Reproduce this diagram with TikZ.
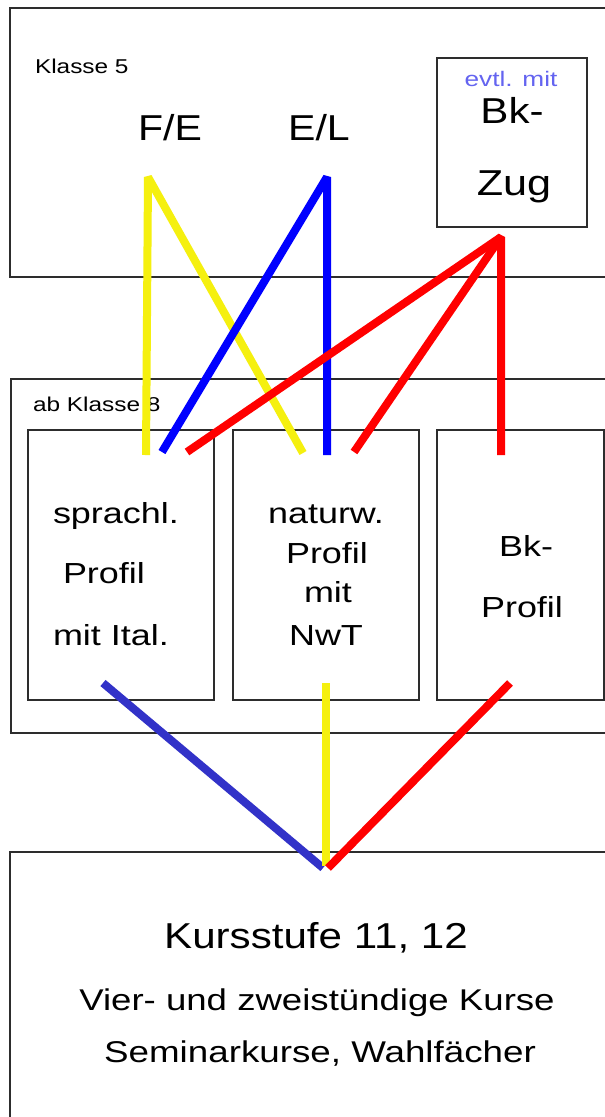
\documentclass[tikz,border=0pt]{standalone}
\usepackage{fontspec}
\setmainfont{Liberation Sans}
\usepackage{graphicx}
\newcommand{\tx}[3]{\fontsize{#1}{#1}\selectfont\scalebox{#2}[1]{#3}}
\definecolor{cyel}{RGB}{245,240,15}
\definecolor{cblu}{RGB}{0,0,255}
\definecolor{cblutwo}{RGB}{50,50,200}
\definecolor{cred}{RGB}{255,0,0}
\definecolor{cevtl}{RGB}{100,100,240}
\definecolor{cframe}{RGB}{45,45,45}
\begin{document}
\begin{tikzpicture}[x=1pt,y=-1pt,
  frame/.style={draw=cframe, line width=2pt, inner sep=0pt, outer sep=0pt, anchor=north west},
  lbl/.style={inner sep=0pt, outer sep=0pt, anchor=base},
  lblw/.style={inner sep=0pt, outer sep=0pt, anchor=base west},
  conn/.style={line width=8pt, line join=bevel}]
\clip (0,0) rectangle (605,1117);
\fill[white] (0,0) rectangle (605,1117);
% frames
\node[frame, minimum width=620pt, minimum height=269pt] (top) at (10,8) {};
\node[frame, minimum width=150pt, minimum height=169pt] (bkzug) at (437,58) {};
\node[frame, minimum width=619pt, minimum height=354pt] (mid) at (11,379) {};
\node[frame, minimum width=186pt, minimum height=270pt] (sp) at (28,430) {};
\node[frame, minimum width=186pt, minimum height=270pt] (nw) at (233,430) {};
\node[frame, minimum width=167pt, minimum height=270pt] (bk) at (437,430) {};
\node[frame, minimum width=620pt, minimum height=300pt] (ks) at (10,852) {};
% texts top
\node[lblw] (t5) at (35,73) {\tx{20}{1.22}{Klasse 5}};
\node[lbl] (fe) at (170,140) {\tx{36}{1.14}{F/E}};
\node[lbl] (el) at (319,140) {\tx{36}{1.14}{E/L}};
\node[lbl, text=cevtl] (ev) at (511,86) {\tx{21}{1.25}{evtl. mit}};
\node[lbl] (bkone) at (512,123) {\tx{36}{1.17}{Bk-}};
\node[lbl] (zug) at (514,195) {\tx{36}{1.2}{Zug}};
% texts middle
\node[lblw] (t8) at (33,411) {\tx{20}{1.22}{ab Klasse 8}};
\node[lblw] (sp1) at (53,523) {\tx{29}{1.24}{sprachl.}};
\node[lblw] (sp2) at (63,583) {\tx{29}{1.24}{Profil}};
\node[lblw] (sp3) at (53,645) {\tx{29}{1.24}{mit Ital.}};
\node[lbl] (nw1) at (326,523) {\tx{29}{1.24}{naturw.}};
\node[lbl] (nw2) at (327,563) {\tx{29}{1.24}{Profil}};
\node[lbl] (nw3) at (328,602) {\tx{29}{1.24}{mit}};
\node[lbl] (nw4) at (326,645) {\tx{29}{1.24}{NwT}};
\node[lbl] (bk1) at (526,556) {\tx{29}{1.24}{Bk-}};
\node[lbl] (bk2) at (522,617) {\tx{29}{1.24}{Profil}};
% texts bottom
\node[lbl] (ks1) at (316,948) {\tx{36}{1.17}{Kursstufe 11, 12}};
\node[lbl] (ks2) at (317,1010) {\tx{30}{1.22}{Vier- und zweistündige Kurse}};
\node[lbl] (ks3) at (320,1062) {\tx{30}{1.225}{Seminarkurse, Wahlfächer}};
% connector end points
\coordinate (feb) at (148,177);
\coordinate (elb) at (327,177);
\coordinate (bzb) at (501,237);
\coordinate (spy) at (146,455);
\coordinate (spb) at (162,452);
\coordinate (spr) at (187,452);
\coordinate (nwy) at (303,453);
\coordinate (nwb) at (327,455);
\coordinate (nwr) at (354,452);
\coordinate (bkr) at (501,455);
\coordinate (spd) at (103,683);
\coordinate (nwd) at (326,683);
\coordinate (bkd) at (510,683);
\coordinate (ksb) at (323,868);
\coordinate (ksy) at (326,866);
\coordinate (ksr) at (328,868);
% connectors top
\draw[conn, cyel] (spy) -- (feb) -- (nwy);
\draw[conn, cblu] (spb) -- (elb) -- (nwb);
\draw[conn, cred] (spr) -- (bzb) -- (bkr);
\draw[conn, cred] (nwr) -- (bzb);
% connectors bottom
\draw[conn, cblutwo] (spd) -- (ksb);
\draw[conn, cyel] (nwd) -- (ksy);
\draw[conn, cred] (bkd) -- (ksr);
\end{tikzpicture}
\end{document}
